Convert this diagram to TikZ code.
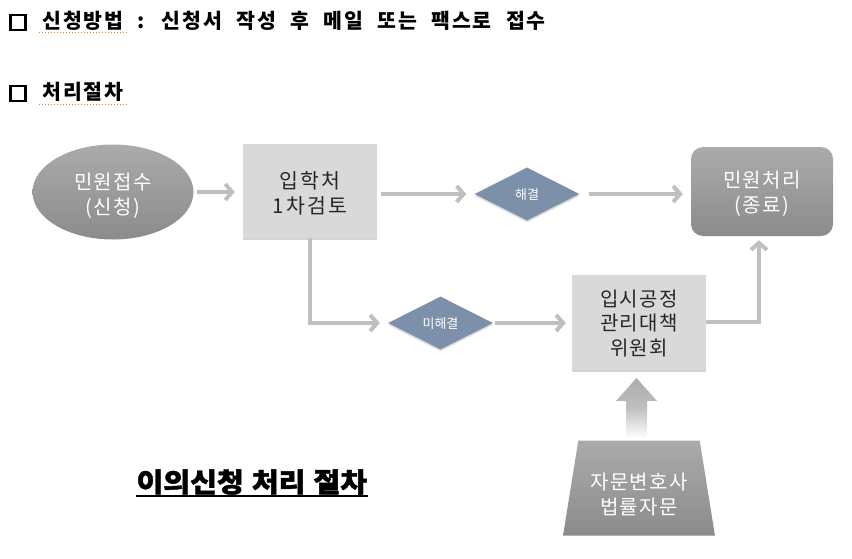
\documentclass[tikz,border=0pt]{standalone}
\usepackage{fontspec}
\setmainfont{Noto Sans CJK KR}
\newfontfamily\hdrfont[WordSpace=2.2,LetterSpace=9]{Noto Sans CJK KR}
\newfontfamily\ttlfont[WordSpace=1.2,FakeStretch=1.08,BoldFeatures={FakeBold=1.6}]{Noto Sans CJK KR}
\newfontfamily\wideboxfont[LetterSpace=11]{Noto Sans CJK KR}
\newfontfamily\shapefont[LetterSpace=7]{Noto Sans CJK KR}
\usepackage{tikz}
\usetikzlibrary{arrows.meta,positioning,shapes.geometric,shadows}
\definecolor{linegray}{HTML}{BFBFBF}
\definecolor{boxgray}{HTML}{D9D9D9}
\definecolor{slate}{HTML}{7C90A9}
\definecolor{darktop}{HTML}{ABABAB}
\definecolor{darkbot}{HTML}{8B8B8B}
\newcommand{\sunk}[2][5pt]{\raisebox{-#1}[\height][\depth]{\begin{tabular}{@{}c@{}}#2\end{tabular}}}

\begin{document}
\begin{tikzpicture}[x=1pt,y=-1pt,
  flow/.style={draw=linegray,line width=4pt,-{Straight Barb[length=7pt,width=16pt]}},
  greybox/.style={rectangle,fill=boxgray,minimum width=134pt,minimum height=94pt,
    font=\shapefont\fontsize{20}{24.5}\selectfont,text=black!85,
    drop shadow={opacity=0.35,shadow xshift=0pt,shadow yshift=-2pt}},
  darkshape/.style={top color=darktop,bottom color=darkbot,text=white,
    font=\shapefont\fontsize{20}{25}\selectfont},
  decide/.style={diamond,fill=slate,minimum width=105pt,minimum height=53pt,inner sep=0pt,
    text=white,font=\fontsize{13}{15}\selectfont,
    drop shadow={opacity=0.25,shadow xshift=0pt,shadow yshift=-2pt}},
  tickbox/.style={draw,line width=2.2pt,minimum size=15pt,inner sep=0pt}]
\useasboundingbox (0,0) rectangle (852,558);

\node[tickbox] (box1) at (18,22.5) {};
\node[anchor=west,font=\hdrfont\bfseries\fontsize{20.5}{24}\selectfont] (method) at (39,21) {신청방법 : 신청서 작성 후 메일 또는 팩스로 접수};
\draw[orange,dotted,line width=1pt] (39,32) -- (128,32);
\node[tickbox] (box2) at (18,93.5) {};
\node[anchor=west,font=\hdrfont\bfseries\fontsize{20.5}{24}\selectfont] (steps) at (39,92) {처리절차};
\draw[orange,dotted,line width=1pt] (39,104) -- (128,104);

\node[ellipse,darkshape,minimum width=161pt,minimum height=95pt] (intake) at (113,192) {\sunk{민원접수\\(신청)}};
\node[greybox,font=\wideboxfont\fontsize{20.5}{25}\selectfont] (review) at (310,191) {\sunk[4.5pt]{입학처\\1차검토}};
\node[decide] (solved) at (527,194) {\sunk[2pt]{해결}};
\node[rectangle,rounded corners=12pt,darkshape,minimum width=142pt,minimum height=89pt] (done) at (762,191.5) {\sunk[3.5pt]{민원처리\\(종료)}};
\node[decide] (unsolved) at (440.5,323) {\sunk[2pt]{미해결}};
\node[greybox,minimum height=95pt] (committee) at (639,322) {\sunk[4pt]{입시공정\\관리대책\\위원회}};
\node[trapezium,darkshape,trapezium stretches=true,minimum width=152pt,minimum height=95pt,
  trapezium left angle=77,trapezium right angle=77] (counsel) at (639,488) {\sunk[9pt]{자문변호사\\법률자문}};

\shade[top color=linegray!90!black,bottom color=white,middle color=linegray]
  (626,438) -- (626,401) -- (616,401) -- (636.5,378) -- (657,401) -- (647,401) -- (647,438) -- cycle;

\draw[flow,shorten <=3pt,shorten >=8pt] (intake.east) -- (intake.east -| review.west);
\draw[flow,shorten <=4pt,shorten >=8pt] (review.east |- solved.west) -- (solved.west);
\draw[flow,shorten <=9pt,shorten >=8pt] (solved.east) -- (solved.east -| done.west);
\draw[flow,shorten >=8pt] (review.south) |- (unsolved.west);
\draw[flow,shorten <=2pt,shorten >=6pt] (unsolved.east) -- (unsolved.east -| committee.west);
\draw[flow,shorten >=4pt] (committee.east) -| ([xshift=-3pt]done.south);

\node[anchor=west,font=\ttlfont\bfseries\fontsize{27}{29}\selectfont,inner ysep=1pt] (title) at (133,482) {이의신청 처리 절차};
\draw[line width=2pt] ([xshift=3pt]title.south west) -- ([xshift=-3pt]title.south east);
\end{tikzpicture}
\end{document}
